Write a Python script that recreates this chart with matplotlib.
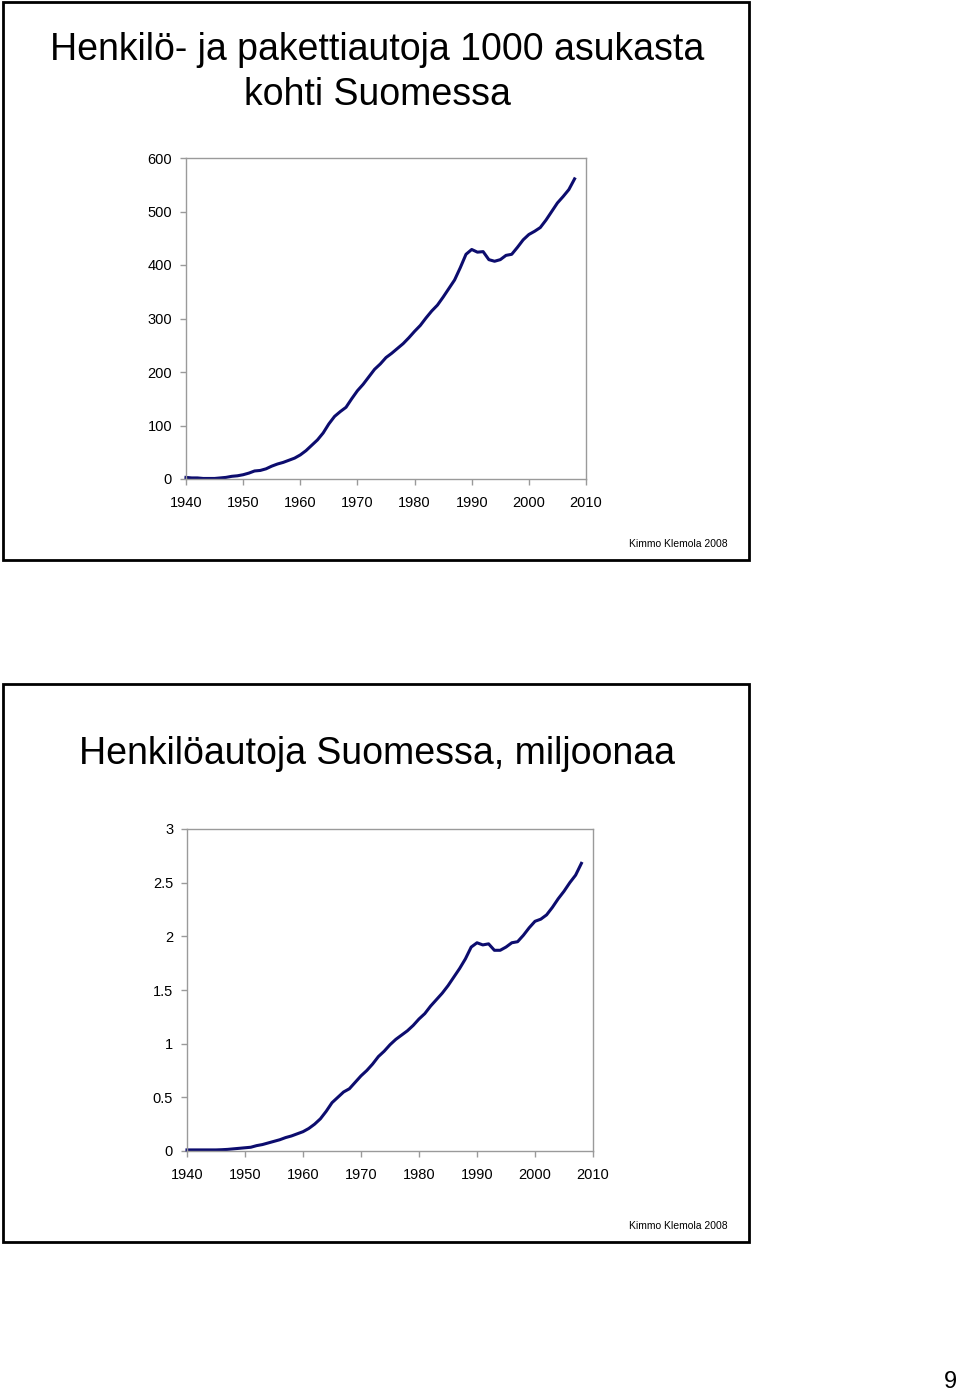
import matplotlib
matplotlib.use("Agg")
import matplotlib.pyplot as plt
from matplotlib.patches import Rectangle

plt.rcParams['font.family'] = ['Liberation Sans', 'DejaVu Sans']

years = list(range(1940, 2009))

cars_per_1000 = [3, 2, 2, 1, 1, 1, 2, 3, 5, 6,
                 8, 11, 15, 16, 19, 24, 28, 31, 35, 39,
                 45, 53, 63, 73, 86, 103, 117, 126, 134, 150,
                 165, 177, 191, 205, 215, 227, 235, 244, 253, 264,
                 276, 287, 301, 314, 325, 340, 356, 372, 395, 420,
                 429, 424, 425, 410, 407, 410, 418, 420, 433, 447,
                 457, 463, 470, 484, 500, 516, 528, 541, 561]

cars_millions = [0.01, 0.01, 0.01, 0.01, 0.01, 0.01, 0.012, 0.015, 0.02, 0.025,
                 0.03, 0.035, 0.05, 0.06, 0.075, 0.09, 0.105, 0.125, 0.14, 0.16,
                 0.18, 0.21, 0.25, 0.30, 0.37, 0.45, 0.50, 0.55, 0.58, 0.64,
                 0.70, 0.75, 0.81, 0.88, 0.93, 0.99, 1.04, 1.08, 1.12, 1.17,
                 1.23, 1.28, 1.35, 1.41, 1.47, 1.54, 1.62, 1.70, 1.79, 1.90,
                 1.94, 1.92, 1.93, 1.87, 1.87, 1.90, 1.94, 1.95, 2.01, 2.08,
                 2.14, 2.16, 2.20, 2.27, 2.35, 2.42, 2.50, 2.57, 2.68]

x_ticks = [1940, 1950, 1960, 1970, 1980, 1990, 2000, 2010]
y_ticks_top = [0, 100, 200, 300, 400, 500, 600]
y_ticks_bottom = [0, 0.5, 1, 1.5, 2, 2.5, 3]
y_labels_bottom = ['0', '0.5', '1', '1.5', '2', '2.5', '3']

title_top = ["Henkilö- ja pakettiautoja 1000 asukasta", "kohti Suomessa"]
title_bottom = "Henkilöautoja Suomessa, miljoonaa"
credit = "Kimmo Klemola 2008"
page_number = "9"

W, H = 960, 1394
fig = plt.figure(figsize=(W / 100, H / 100), dpi=100)
fig.patch.set_facecolor('white')


def px_axes(x0, y0, x1, y1):
    return fig.add_axes([x0 / W, 1 - y1 / H, (x1 - x0) / W, (y1 - y0) / H])


def frame(x0, y0, x1, y1):
    r = Rectangle((x0 / W, 1 - y1 / H), (x1 - x0) / W, (y1 - y0) / H,
                  transform=fig.transFigure, fill=False, edgecolor='black',
                  linewidth=2)
    fig.add_artist(r)


def style_axes(ax, yt, ylab, ymax):
    ax.set_xlim(1940, 2010)
    ax.set_ylim(0, ymax)
    ax.set_xticks(x_ticks)
    ax.set_xticklabels([str(t) for t in x_ticks])
    ax.set_yticks(yt)
    ax.set_yticklabels(ylab)
    for s in ax.spines.values():
        s.set_color('#9a9a9a')
        s.set_linewidth(1)
    ax.tick_params(direction='out', length=4, width=1, color='#9a9a9a',
                   labelcolor='black', labelsize=10.5)
    ax.tick_params(axis='x', pad=8)
    ax.tick_params(axis='y', pad=6)
    ax.set_facecolor('white')


# top slide
frame(3, 2, 749, 560)
fig.text(377 / W, 1 - 59.5 / H, title_top[0], ha='center', va='baseline', fontsize=27)
fig.text(377 / W, 1 - 105 / H, title_top[1], ha='center', va='baseline', fontsize=27)
ax1 = px_axes(186, 158, 586, 479)
ax1.plot(years, cars_per_1000, color='#0c0c6e', linewidth=2.2, clip_on=False)
style_axes(ax1, y_ticks_top, [str(t) for t in y_ticks_top], 600)
fig.text(728 / W, 1 - 544 / H, credit, ha='right', va='center', fontsize=7.5)

# bottom slide
frame(3, 684, 749, 1242)
fig.text(377 / W, 1 - 764 / H, title_bottom, ha='center', va='baseline', fontsize=27)
ax2 = px_axes(187, 829, 593, 1151)
ax2.plot(years, cars_millions, color='#0c0c6e', linewidth=2.2, clip_on=False)
style_axes(ax2, y_ticks_bottom, y_labels_bottom, 3)
fig.text(728 / W, 1 - 1226 / H, credit, ha='right', va='center', fontsize=7.5)

fig.text(950 / W, 1 - 1382 / H, page_number, ha='center', va='center', fontsize=17)

fig.savefig('out.png', dpi=100, facecolor='white')
